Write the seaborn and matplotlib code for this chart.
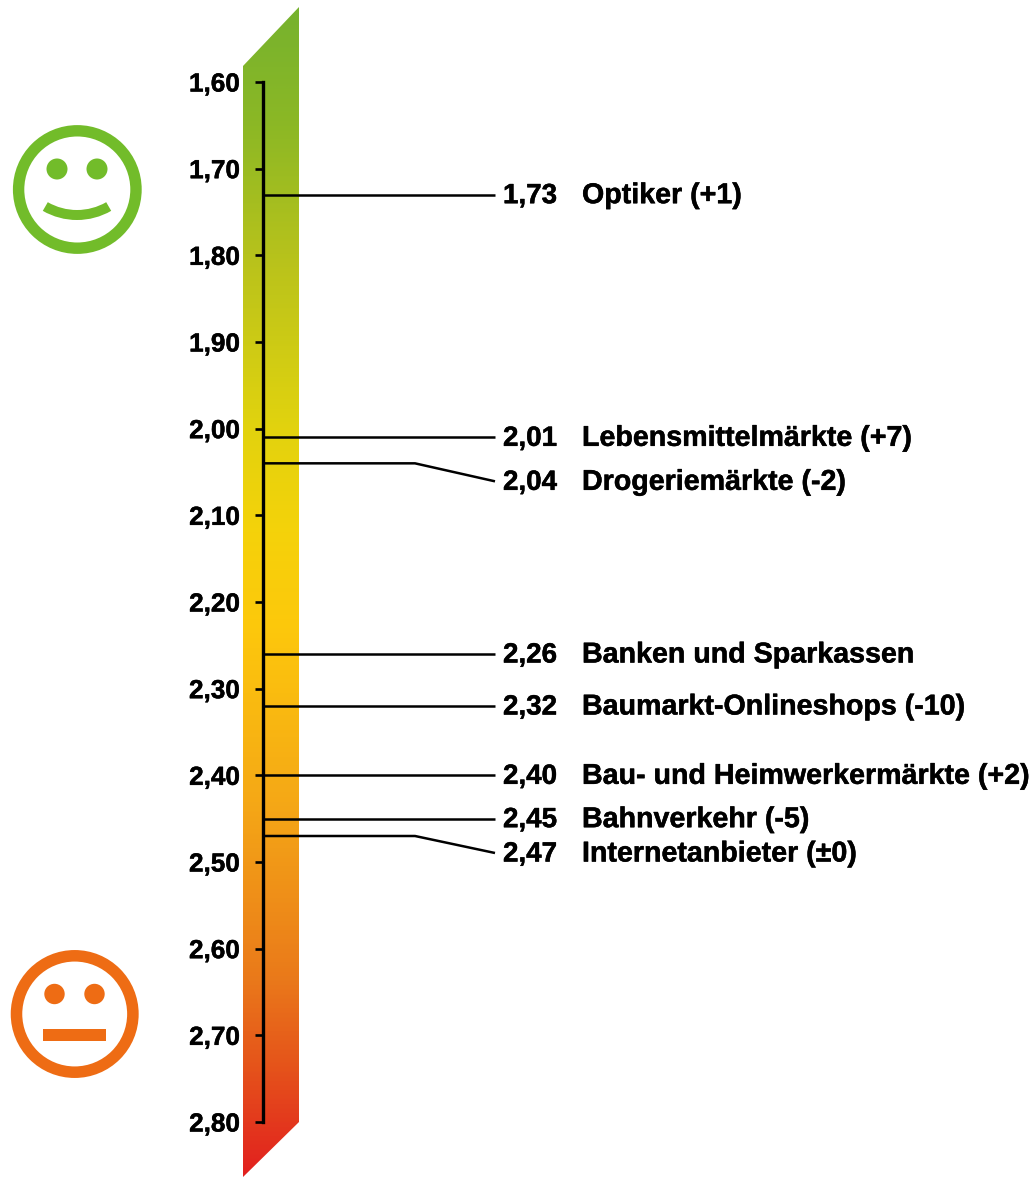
import numpy as np
import pandas as pd
import matplotlib
matplotlib.use("Agg")
import matplotlib.pyplot as plt
import matplotlib.patheffects as pe
import seaborn as sns
from matplotlib.colors import LinearSegmentedColormap
from matplotlib.patches import Circle, Polygon, Rectangle, Wedge

tick_values = [1.6, 1.7, 1.8, 1.9, 2.0, 2.1, 2.2, 2.3, 2.4, 2.5, 2.6, 2.7, 2.8]
values = [1.73, 2.01, 2.04, 2.26, 2.32, 2.40, 2.45, 2.47]
names = ["Optiker (+1)", "Lebensmittelmärkte (+7)", "Drogeriemärkte (-2)",
         "Banken und Sparkassen", "Baumarkt-Onlineshops (-10)",
         "Bau- und Heimwerkermärkte (+2)", "Bahnverkehr (-5)",
         "Internetanbieter (±0)"]
label_shift_px = [0, 0, 18, 0, 0, 0, 0, 17]

W, H = 1034, 1177
Y0, Y1 = 82.0, 1122.0              # pixel rows of 1,60 and 2,80
PX = (Y1 - Y0) / 1.2               # pixels per unit
FONT = "Liberation Sans"
AXX = 262.5

sns.set_theme(style="white")
plt.rcParams["font.family"] = [FONT, "DejaVu Sans"]
fig = plt.figure(figsize=(W / 100, H / 100), dpi=100)

# decoration layer in pixel coordinates
deco = fig.add_axes([0, 0, 1, 1])
deco.set_xlim(0, W); deco.set_ylim(H, 0); deco.axis("off")
grad = LinearSegmentedColormap.from_list("g", [
    (0.00, "#76B22E"), (0.10, "#8CB825"), (0.22, "#BAC31B"), (0.36, "#E2D30E"),
    (0.45, "#F5D20A"), (0.53, "#FDC80C"), (0.68, "#F5A816"), (0.83, "#EA7A1A"),
    (0.91, "#E5521B"), (1.00, "#E2201F")])
im = deco.imshow(np.linspace(0, 1, 512)[:, None], cmap=grad, aspect="auto",
                 extent=(243, 299, 1177, 7), zorder=1)
poly = Polygon([(243, 66), (299, 7), (299, 1122), (243, 1177)],
               closed=True, transform=deco.transData, fc="none", ec="none")
deco.add_patch(poly)
im.set_clip_path(poly)
deco.set_xlim(0, W); deco.set_ylim(H, 0)

GREEN, ORANGE = "#72BC2A", "#EE6C14"
deco.add_patch(Circle((77.3, 189.5), 58.7, fc="white", ec=GREEN, lw=8.2))
deco.add_patch(Circle((57, 169), 10.5, fc=GREEN, ec="none"))
deco.add_patch(Circle((97, 169), 10.5, fc=GREEN, ec="none"))
deco.add_patch(Wedge((77, 151.6), 68.4, 60, 120, width=10, fc=GREEN, ec="none"))
deco.add_patch(Circle((74.7, 1014), 58.2, fc="white", ec=ORANGE, lw=8.3))
deco.add_patch(Circle((54.5, 994), 10.2, fc=ORANGE, ec="none"))
deco.add_patch(Circle((94.5, 994), 10.2, fc=ORANGE, ec="none"))
deco.add_patch(Rectangle((43, 1029), 63, 12, fc=ORANGE, ec="none"))

# data layer: x in pixels, y in score units
ax = fig.add_axes([0, 0, 1, 1])
ax.patch.set_alpha(0)

rows = []
for i, (v, s) in enumerate(zip(values, label_shift_px)):
    end = v + s / PX
    pts = [(AXX, v), (415, v), (495, end)] if s else [(AXX, v), (495, v)]
    rows += [dict(x=x, y=y, id=i) for x, y in pts]
leaders = pd.DataFrame(rows)
sns.lineplot(data=leaders, x="x", y="y", units="id", estimator=None, sort=False,
             color="black", lw=1.8, ax=ax, legend=False, solid_capstyle="butt")
ax.set_xlim(0, W)
ax.set_ylim(1.6 + (H - Y0) / PX, 1.6 - Y0 / PX)
ax.axis("off")

ax.plot([AXX, AXX], [tick_values[0], tick_values[-1]], color="black", lw=2.4,
        solid_capstyle="projecting")
stroke = [pe.withStroke(linewidth=0.35, foreground="black")]
for t in tick_values:
    ax.plot([255, AXX], [t, t], color="black", lw=1.9, solid_capstyle="butt")
    ax.text(240, t, f"{t:.2f}".replace(".", ","), ha="right", va="center_baseline",
            fontsize=18.8, fontweight="bold", color="black", family=FONT,
            path_effects=stroke)

for v, n, s in zip(values, names, label_shift_px):
    ax.text(503, v + (s - 1.5) / PX, f"{v:.2f}".replace(".", ","), ha="left",
            va="center_baseline", fontsize=20, fontweight="bold", color="black",
            family=FONT, path_effects=stroke)
    ax.text(582, v + (s - 2.5) / PX, n, ha="left", va="center_baseline",
            fontsize=20.6, fontweight="bold", color="black", family=FONT,
            path_effects=stroke)

fig.savefig("out.png", dpi=100)
